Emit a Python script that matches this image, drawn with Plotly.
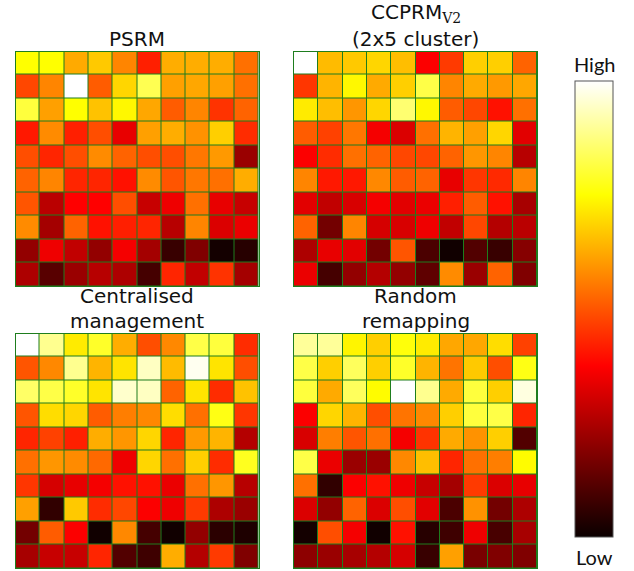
import plotly.graph_objects as go

W, H = 634, 571

psrm = [
    [0.75, 0.75, 0.625, 0.67, 0.57, 0.42, 0.63, 0.63, 0.63, 0.54],
    [0.48, 0.57, 1.00, 0.51, 0.69, 0.83, 0.61, 0.62, 0.61, 0.54],
    [0.81, 0.61, 0.75, 0.66, 0.74, 0.62, 0.51, 0.57, 0.45, 0.52],
    [0.41, 0.58, 0.42, 0.49, 0.34, 0.61, 0.63, 0.59, 0.68, 0.44],
    [0.49, 0.43, 0.49, 0.58, 0.52, 0.49, 0.49, 0.55, 0.60, 0.22],
    [0.52, 0.57, 0.43, 0.43, 0.40, 0.58, 0.50, 0.55, 0.54, 0.63],
    [0.50, 0.27, 0.375, 0.375, 0.49, 0.29, 0.35, 0.54, 0.34, 0.29],
    [0.58, 0.235, 0.52, 0.40, 0.42, 0.43, 0.265, 0.57, 0.32, 0.345],
    [0.21, 0.35, 0.28, 0.21, 0.36, 0.235, 0.07, 0.18, 0.015, 0.045],
    [0.25, 0.12, 0.22, 0.265, 0.25, 0.09, 0.43, 0.28, 0.45, 0.235],
]

ccprm = [
    [1.00, 0.65, 0.67, 0.69, 0.655, 0.37, 0.46, 0.68, 0.68, 0.52],
    [0.455, 0.64, 0.74, 0.625, 0.68, 0.82, 0.57, 0.625, 0.60, 0.62],
    [0.72, 0.655, 0.595, 0.69, 0.86, 0.74, 0.51, 0.48, 0.40, 0.54],
    [0.51, 0.47, 0.55, 0.36, 0.32, 0.54, 0.64, 0.61, 0.69, 0.33],
    [0.37, 0.44, 0.54, 0.52, 0.48, 0.48, 0.52, 0.595, 0.57, 0.265],
    [0.57, 0.41, 0.41, 0.575, 0.51, 0.52, 0.34, 0.455, 0.435, 0.57],
    [0.33, 0.28, 0.315, 0.36, 0.33, 0.345, 0.42, 0.51, 0.40, 0.24],
    [0.52, 0.16, 0.57, 0.31, 0.315, 0.35, 0.28, 0.48, 0.26, 0.27],
    [0.25, 0.34, 0.33, 0.16, 0.50, 0.10, 0.01, 0.11, 0.07, 0.19],
    [0.345, 0.09, 0.21, 0.26, 0.21, 0.13, 0.58, 0.22, 0.52, 0.18],
]

central = [
    [1.00, 0.89, 0.72, 0.79, 0.63, 0.49, 0.575, 0.82, 0.81, 0.44],
    [0.50, 0.575, 0.89, 0.64, 0.71, 0.94, 0.65, 0.985, 0.71, 0.49],
    [0.85, 0.82, 0.79, 0.71, 0.95, 0.94, 0.52, 0.71, 0.44, 0.66],
    [0.50, 0.70, 0.69, 0.51, 0.56, 0.575, 0.70, 0.54, 0.77, 0.455],
    [0.43, 0.47, 0.42, 0.63, 0.595, 0.69, 0.43, 0.60, 0.64, 0.26],
    [0.54, 0.595, 0.58, 0.53, 0.35, 0.69, 0.54, 0.68, 0.44, 0.78],
    [0.455, 0.31, 0.34, 0.36, 0.40, 0.40, 0.345, 0.54, 0.595, 0.265],
    [0.61, 0.06, 0.67, 0.44, 0.48, 0.37, 0.35, 0.46, 0.25, 0.22],
    [0.16, 0.51, 0.37, 0.01, 0.575, 0.09, 0.01, 0.21, 0.05, 0.03],
    [0.24, 0.29, 0.29, 0.43, 0.11, 0.08, 0.63, 0.26, 0.46, 0.18],
]

random_remap = [
    [0.90, 0.90, 0.735, 0.68, 0.76, 0.72, 0.62, 0.62, 0.70, 0.47],
    [0.82, 0.68, 0.84, 0.68, 0.79, 0.64, 0.545, 0.67, 0.49, 0.77],
    [0.81, 0.625, 0.84, 0.745, 1.00, 0.89, 0.625, 0.81, 0.68, 0.97],
    [0.37, 0.69, 0.64, 0.49, 0.545, 0.575, 0.68, 0.81, 0.82, 0.43],
    [0.315, 0.56, 0.50, 0.54, 0.36, 0.45, 0.625, 0.59, 0.68, 0.11],
    [0.82, 0.345, 0.22, 0.22, 0.575, 0.655, 0.43, 0.54, 0.56, 0.745],
    [0.54, 0.06, 0.37, 0.40, 0.35, 0.29, 0.235, 0.46, 0.32, 0.34],
    [0.32, 0.21, 0.52, 0.32, 0.49, 0.33, 0.10, 0.59, 0.16, 0.25],
    [0.015, 0.49, 0.36, 0.01, 0.40, 0.045, 0.08, 0.35, 0.095, 0.24],
    [0.20, 0.22, 0.24, 0.26, 0.31, 0.07, 0.61, 0.17, 0.18, 0.18],
]

titles = [
    ["PSRM"],
    ["CCPRM<sub><span style=\"font-family:'DejaVu Serif'\">V2</span></sub>", "(2x5 cluster)"],
    ["Centralised", "management"],
    ["Random", "remapping"],
]
cbar_labels = ["High", "Low"]

hot = [[0.0, "rgb(10,0,0)"], [0.375, "rgb(255,0,0)"], [0.75, "rgb(255,255,0)"], [1.0, "rgb(255,255,255)"]]

# panel pixel boxes (x0, x1, y0, y1)
boxes = [
    (15.5, 258.5, 51.5, 286),
    (294, 537, 51.5, 286),
    (15.5, 258.5, 333.5, 568),
    (294, 537, 333.5, 568),
]
grid = "#1e7d1e"

fig = go.Figure()
datasets = [psrm, ccprm, central, random_remap]
for i, (z, (x0, x1, y0, y1)) in enumerate(zip(datasets, boxes)):
    k = "" if i == 0 else str(i + 1)
    fig.add_trace(go.Heatmap(
        z=z, colorscale=hot, zmin=0, zmax=1, xgap=1, ygap=1,
        xaxis="x" + k, yaxis="y" + k,
        showscale=(i == 0),
        colorbar=dict(
            thickness=38, thicknessmode="pixels",
            len=456, lenmode="pixels",
            x=575 / W, xanchor="left", xref="container",
            y=1 - 81 / H, yanchor="top", yref="container",
            outlinecolor="#555555", outlinewidth=1,
            showticklabels=False, ticks="", xpad=0, ypad=0,
        ),
        hoverinfo="skip",
    ))
    ax = dict(domain=[x0 / W, x1 / W], showgrid=False, zeroline=False,
              showticklabels=False, ticks="", showline=True, mirror=True,
              linecolor=grid, linewidth=1, range=[-0.5, 9.5])
    ay = dict(domain=[1 - y1 / H, 1 - y0 / H], showgrid=False, zeroline=False,
              showticklabels=False, ticks="", showline=True, mirror=True,
              linecolor=grid, linewidth=1, range=[9.5, -0.5])
    if i:
        ax["anchor"] = "y" + k
        ay["anchor"] = "x" + k
    fig.layout["xaxis" + k] = ax
    fig.layout["yaxis" + k] = ay

ann = []
title_font = dict(family="DejaVu Sans", size=20, color="#111111")
for (x0, x1, y0, y1), lines in zip(boxes, titles):
    cx = (x0 + x1) / 2 / W
    n = len(lines)
    for j, t in enumerate(lines):
        py = y0 - 13 - (n - 1 - j) * 25
        ann.append(dict(text=t, x=cx, y=1 - py / H, xref="paper", yref="paper",
                        xanchor="center", yanchor="middle", showarrow=False,
                        font=title_font))
ann.append(dict(text=cbar_labels[0], x=594 / W, y=1 - 64 / H, xref="paper", yref="paper",
                xanchor="center", yanchor="middle", showarrow=False,
                font=dict(family="Lato", size=20, color="#111111")))
ann.append(dict(text=cbar_labels[1], x=594 / W, y=1 - 557 / H, xref="paper", yref="paper",
                xanchor="center", yanchor="middle", showarrow=False,
                font=dict(family="Lato", size=20, color="#111111")))

fig.update_layout(
    width=W, height=H, margin=dict(l=0, r=0, t=0, b=0, autoexpand=False),
    paper_bgcolor="white", plot_bgcolor=grid,
    annotations=ann, showlegend=False,
)

fig.write_html("out.html", config={"displayModeBar": False},
               post_script="document.body.style.margin='0px';document.body.style.overflow='hidden';")
